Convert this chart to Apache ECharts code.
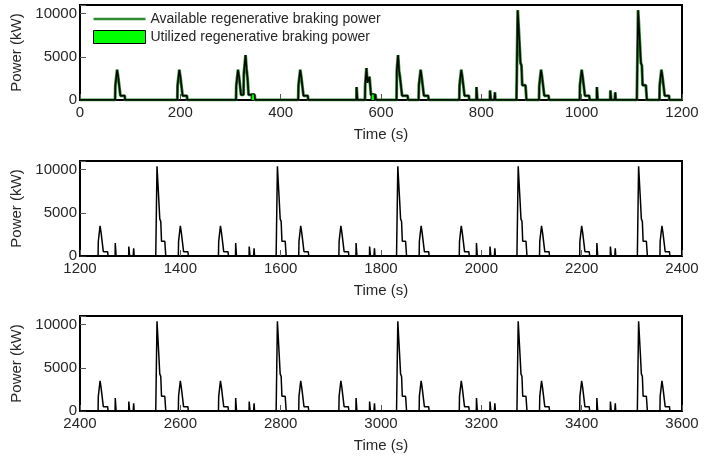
<!DOCTYPE html>
<html>
<head>
<meta charset="utf-8">
<script src="https://cdn.jsdelivr.net/npm/echarts@6/dist/echarts.min.js"></script>
<style>
  html, body { margin: 0; padding: 0; background: #fff; }
  #chart { width: 725px; height: 464px; }
</style>
</head>
<body>
<div id="chart"></div>
<script>
// axis ranges of the three panels (s) and power ticks (kW)
const timeRanges = [[0, 1200], [1200, 2400], [2400, 3600]];
const powerTicks = [0, 5000, 10000];
const powerMax = 11000;

// braking event shapes: [seconds after onset, kW]
const smallShape = [[0, 0], [0.5, 1700], [4, 3500], [5, 3300], [6, 2700], [9, 2600], [10.5, 500], [19, 500], [20, 0]];
const bigShape = [[0, 0], [2.5, 10400], [6, 6600], [8, 4300], [10, 4000], [11.5, 1700], [18, 1700], [20, 0]];
const spikeAShape = [[0, 0], [0.3, 1500], [1.7, 1500], [2, 0]];
const spikeBShape = [[0, 0], [0.3, 1100], [1.7, 1100], [2, 0]];
const spikeCShape = [[0, 0], [1, 900], [2, 0]];
const doubleShape = [[0, 0], [0.5, 1700], [4, 3500], [5, 3300], [6, 2700], [8, 2500], [10, 600], [15, 600], [15.5, 3000],
  [19, 5200], [21, 3600], [23, 2500], [25, 600], [37, 600], [38, 0]];
const twinShape = [[0, 0], [0.5, 1700], [3, 3700], [5, 2000], [6, 1900], [9, 2700], [10, 2600], [12, 600], [21, 600], [22, 0]];
const midShape = [[0, 0], [0.5, 3400], [3, 5200], [5, 3400], [7, 2600], [10, 2500], [11, 500], [22, 500], [23, 0]];
const patchShape = [[0, 0], [0.5, 700], [6.5, 700], [7, 0]];

// event onsets (s), panel 1
const topSmall = [70, 194, 435, 675, 756, 915, 996, 1155];
const topBig = [870, 1110];
const topSpikeA = [551, 790, 1030];
const topSpikeB = [817, 1057];
const topSpikeC = [826, 1066];
const topDouble = [311];
const topTwin = [568];
const topMid = [631];
const utilizedPatches = [341, 580];

// panel 2
const midSmall = [1236, 1396, 1476, 1636, 1716, 1876, 1956, 2116, 2196, 2356];
const midBig = [1351, 1591, 1831, 2071, 2311];
const midSpikeA = [1270, 1510, 1750, 1990, 2230];
const midSpikeB = [1297, 1537, 1777, 2017, 2257];
const midSpikeC = [1306, 1546, 1786, 2026, 2266];

// panel 3
const lowSmall = [2436, 2596, 2676, 2836, 2916, 3076, 3156, 3316, 3396, 3556];
const lowBig = [2551, 2791, 3031, 3271, 3511];
const lowSpikeA = [2470, 2710, 2950, 3190, 3430];
const lowSpikeB = [2497, 2737, 2977, 3217, 3457];
const lowSpikeC = [2506, 2746, 2986, 3226, 3466];

const AVAIL = 'Available regenerative braking power';
const UTIL = 'Utilized regenerative braking power';
const FONT = '"Liberation Sans", Arial, Helvetica, sans-serif';
const TEXT = '#262626';

function buildTrace(range, groups) {
  const events = [];
  groups.forEach(([onsets, shape]) => onsets.forEach(t0 => events.push([t0, shape])));
  events.sort((a, b) => a[0] - b[0]);
  const pts = [[range[0], 0]];
  events.forEach(([t0, shape]) => shape.forEach(([dt, p]) => pts.push([t0 + dt, p])));
  pts.push([range[1], 0]);
  return pts;
}

const topTrace = buildTrace(timeRanges[0], [
  [topSmall, smallShape], [topBig, bigShape], [topSpikeA, spikeAShape], [topSpikeB, spikeBShape],
  [topSpikeC, spikeCShape], [topDouble, doubleShape], [topTwin, twinShape], [topMid, midShape]
]);
const utilTrace = buildTrace(timeRanges[0], [[utilizedPatches, patchShape]]);
const midTrace = buildTrace(timeRanges[1], [
  [midSmall, smallShape], [midBig, bigShape], [midSpikeA, spikeAShape], [midSpikeB, spikeBShape], [midSpikeC, spikeCShape]
]);
const lowTrace = buildTrace(timeRanges[2], [
  [lowSmall, smallShape], [lowBig, bigShape], [lowSpikeA, spikeAShape], [lowSpikeB, spikeBShape], [lowSpikeC, spikeCShape]
]);

const gridTops = [5, 161, 316];

const chart = echarts.init(document.getElementById('chart'), null, { renderer: 'canvas' });

const grids = gridTops.map(top => ({
  left: 80, width: 602, top, height: 95,
  show: true, borderColor: '#000', borderWidth: 2, backgroundColor: 'transparent'
}));

const xAxes = timeRanges.map((r, i) => ({
  type: 'value', gridIndex: i, min: r[0], max: r[1], interval: 200,
  name: 'Time (s)', nameLocation: 'middle', nameGap: 27,
  nameTextStyle: { fontFamily: FONT, fontSize: 15, color: TEXT },
  axisLine: { show: false },
  axisTick: { show: true, inside: true, length: 6, lineStyle: { color: '#555', width: 1 } },
  axisLabel: { margin: 5, fontFamily: FONT, fontSize: 15, color: TEXT, formatter: v => String(v) },
  splitLine: { show: false }
}));

const yAxes = timeRanges.map((r, i) => ({
  type: 'value', gridIndex: i, min: 0, max: powerMax, interval: 5000,
  name: 'Power (kW)', nameLocation: 'middle', nameGap: 48,
  nameTextStyle: { fontFamily: FONT, fontSize: 15, color: TEXT },
  axisLine: { show: false },
  axisTick: { show: true, inside: true, length: 6, lineStyle: { color: '#555', width: 1 } },
  axisLabel: {
    margin: 3, fontFamily: FONT, fontSize: 15, color: TEXT,
    formatter: v => (powerTicks.includes(v) ? String(v) : '')
  },
  splitLine: { show: false }
}));

const lineBase = { type: 'line', symbol: 'none', showSymbol: false, silent: true, animation: false };

chart.setOption({
  backgroundColor: '#fff',
  animation: false,
  grid: grids,
  xAxis: xAxes,
  yAxis: yAxes,
  legend: {
    left: 93, top: 12, orient: 'vertical', padding: 0,
    itemWidth: 52, itemHeight: 13, itemGap: 4, itemTextGap: 5,
    textStyle: { fontFamily: FONT, fontSize: 14, color: TEXT },
    selectedMode: false,
    data: [
      // a thin bar as icon so the legend shows a plain line
      { name: AVAIL, icon: 'path://M0 0H104V5H0Z', itemStyle: { color: '#2e8b2e', borderWidth: 0 } },
      { name: UTIL, icon: 'rect', itemStyle: { color: '#00ff00', borderColor: '#000', borderWidth: 1 } }
    ]
  },
  series: [
    Object.assign({}, lineBase, {
      name: AVAIL, xAxisIndex: 0, yAxisIndex: 0, data: topTrace, z: 2,
      lineStyle: { color: '#2e8b2e', width: 3 }, itemStyle: { color: '#2e8b2e' }
    }),
    Object.assign({}, lineBase, {
      xAxisIndex: 0, yAxisIndex: 0, data: topTrace, z: 3,
      lineStyle: { color: '#000', width: 1.5 }, itemStyle: { color: '#000' }
    }),
    Object.assign({}, lineBase, {
      name: UTIL, xAxisIndex: 0, yAxisIndex: 0, data: utilTrace, z: 4,
      lineStyle: { color: '#000', width: 1 }, itemStyle: { color: '#00ff00' },
      areaStyle: { color: '#00ff00', opacity: 1 }
    }),
    Object.assign({}, lineBase, {
      xAxisIndex: 1, yAxisIndex: 1, data: midTrace,
      lineStyle: { color: '#000', width: 1.5 }, itemStyle: { color: '#000' }
    }),
    Object.assign({}, lineBase, {
      xAxisIndex: 2, yAxisIndex: 2, data: lowTrace,
      lineStyle: { color: '#000', width: 1.5 }, itemStyle: { color: '#000' }
    })
  ]
});
</script>
</body>
</html>
